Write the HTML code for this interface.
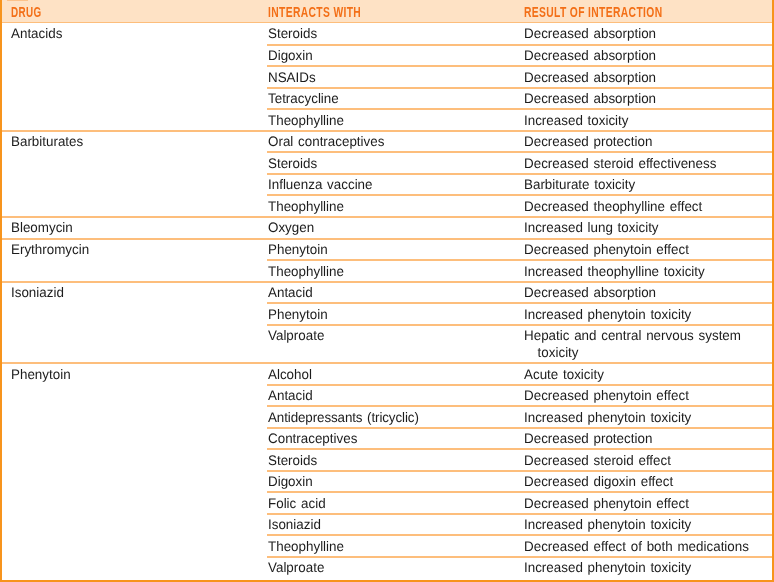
<!DOCTYPE html>
<html><head><meta charset="utf-8"><title>Drug interactions</title>
<style>
html,body{margin:0;padding:0;background:#fff;}
body{width:774px;height:582px;position:relative;overflow:hidden;font-family:"Liberation Sans",sans-serif;}
#t{position:absolute;left:0;top:0;width:774px;height:582px;box-sizing:border-box;border-left:2px solid #F7941D;border-right:2px solid #F7941D;border-bottom:2px solid #F7941D;}
#w{position:absolute;left:0;top:0;width:774px;height:582px;will-change:transform;}
.hd{position:absolute;left:0;top:0;width:774px;height:22px;background:#FEE2C5;}
.h{position:absolute;top:4px;font-size:14px;font-weight:bold;color:#F36F17;line-height:16px;white-space:nowrap;transform-origin:0 50%;transform:scaleX(.735);letter-spacing:.5px}
.l{position:absolute;height:2px;background:#FDBE7C;}
.c{position:absolute;font-size:13.8px;line-height:16.5px;color:#1c1c1c;white-space:nowrap;word-spacing:1.03px;text-rendering:geometricPrecision;transform-origin:0 0;transform:scaleX(.971)}
</style></head><body>
<div class="hd"></div>
<div style="position:absolute;left:7px;top:0;width:21px;height:1px;background:#FCC28A"></div>
<div id="w">
<div class="l" style="left:0;top:22px;width:774px;height:1px"></div>
<div class="h" style="left:10.8px;transform:scaleX(.705)">DRUG</div>
<div class="h" style="left:267.8px">INTERACTS WITH</div>
<div class="h" style="left:523.6px">RESULT OF INTERACTION</div>

<div class="c" style="left:11px;top:0;transform:translateY(26.00px) scaleX(.971)">Antacids</div>
<div class="c" style="left:268px;top:0;transform:translateY(26.00px) scaleX(.971)">Steroids</div>
<div class="c" style="left:523.5px;top:0;transform:translateY(26.00px) scaleX(.971)">Decreased absorption</div>
<div class="l" style="left:267px;top:44px;width:507px"></div>
<div class="c" style="left:268px;top:0;transform:translateY(48.00px) scaleX(.971)">Digoxin</div>
<div class="c" style="left:523.5px;top:0;transform:translateY(48.00px) scaleX(.971)">Decreased absorption</div>
<div class="l" style="left:267px;top:65px;width:507px"></div>
<div class="c" style="left:268px;top:0;transform:translateY(70.00px) scaleX(.971)">NSAIDs</div>
<div class="c" style="left:523.5px;top:0;transform:translateY(70.00px) scaleX(.971)">Decreased absorption</div>
<div class="l" style="left:267px;top:87px;width:507px"></div>
<div class="c" style="left:268px;top:0;transform:translateY(91.00px) scaleX(.971)">Tetracycline</div>
<div class="c" style="left:523.5px;top:0;transform:translateY(91.00px) scaleX(.971)">Decreased absorption</div>
<div class="l" style="left:267px;top:108px;width:507px"></div>
<div class="c" style="left:268px;top:0;transform:translateY(113.00px) scaleX(.971)">Theophylline</div>
<div class="c" style="left:523.5px;top:0;transform:translateY(113.00px) scaleX(.971)">Increased toxicity</div>
<div class="l" style="left:0;top:130px;width:774px"></div>
<div class="c" style="left:11px;top:0;transform:translateY(134.00px) scaleX(.971)">Barbiturates</div>
<div class="c" style="left:268px;top:0;transform:translateY(134.00px) scaleX(.971)">Oral contraceptives</div>
<div class="c" style="left:523.5px;top:0;transform:translateY(134.00px) scaleX(.971)">Decreased protection</div>
<div class="l" style="left:267px;top:151px;width:507px"></div>
<div class="c" style="left:268px;top:0;transform:translateY(156.00px) scaleX(.971)">Steroids</div>
<div class="c" style="left:523.5px;top:0;transform:translateY(156.00px) scaleX(.971)">Decreased steroid effectiveness</div>
<div class="l" style="left:267px;top:173px;width:507px"></div>
<div class="c" style="left:268px;top:0;transform:translateY(177.00px) scaleX(.971)">Influenza vaccine</div>
<div class="c" style="left:523.5px;top:0;transform:translateY(177.00px) scaleX(.971)">Barbiturate toxicity</div>
<div class="l" style="left:267px;top:194px;width:507px"></div>
<div class="c" style="left:268px;top:0;transform:translateY(199.00px) scaleX(.971)">Theophylline</div>
<div class="c" style="left:523.5px;top:0;transform:translateY(199.00px) scaleX(.971)">Decreased theophylline effect</div>
<div class="l" style="left:0;top:216px;width:774px"></div>
<div class="c" style="left:11px;top:0;transform:translateY(220.00px) scaleX(.971)">Bleomycin</div>
<div class="c" style="left:268px;top:0;transform:translateY(220.00px) scaleX(.971)">Oxygen</div>
<div class="c" style="left:523.5px;top:0;transform:translateY(220.00px) scaleX(.971)">Increased lung toxicity</div>
<div class="l" style="left:0;top:238px;width:774px"></div>
<div class="c" style="left:11px;top:0;transform:translateY(242.00px) scaleX(.971)">Erythromycin</div>
<div class="c" style="left:268px;top:0;transform:translateY(242.00px) scaleX(.971)">Phenytoin</div>
<div class="c" style="left:523.5px;top:0;transform:translateY(242.00px) scaleX(.971)">Decreased phenytoin effect</div>
<div class="l" style="left:267px;top:259px;width:507px"></div>
<div class="c" style="left:268px;top:0;transform:translateY(264.00px) scaleX(.971)">Theophylline</div>
<div class="c" style="left:523.5px;top:0;transform:translateY(264.00px) scaleX(.971)">Increased theophylline toxicity</div>
<div class="l" style="left:0;top:281px;width:774px"></div>
<div class="c" style="left:11px;top:0;transform:translateY(285.00px) scaleX(.971)">Isoniazid</div>
<div class="c" style="left:268px;top:0;transform:translateY(285.00px) scaleX(.971)">Antacid</div>
<div class="c" style="left:523.5px;top:0;transform:translateY(285.00px) scaleX(.971)">Decreased absorption</div>
<div class="l" style="left:267px;top:302px;width:507px"></div>
<div class="c" style="left:268px;top:0;transform:translateY(307.00px) scaleX(.971)">Phenytoin</div>
<div class="c" style="left:523.5px;top:0;transform:translateY(307.00px) scaleX(.971)">Increased phenytoin toxicity</div>
<div class="l" style="left:267px;top:324px;width:507px"></div>
<div class="c" style="left:268px;top:0;transform:translateY(328.00px) scaleX(.971)">Valproate</div>
<div class="c" style="left:523.5px;top:0;transform:translateY(328.00px) scaleX(.971)">Hepatic and central nervous system<br><span style="padding-left:14px">toxicity</span></div>
<div class="l" style="left:0;top:362px;width:774px"></div>
<div class="c" style="left:11px;top:0;transform:translateY(367.00px) scaleX(.971)">Phenytoin</div>
<div class="c" style="left:268px;top:0;transform:translateY(367.00px) scaleX(.971)">Alcohol</div>
<div class="c" style="left:523.5px;top:0;transform:translateY(367.00px) scaleX(.971)">Acute toxicity</div>
<div class="l" style="left:267px;top:384px;width:507px"></div>
<div class="c" style="left:268px;top:0;transform:translateY(388.00px) scaleX(.971)">Antacid</div>
<div class="c" style="left:523.5px;top:0;transform:translateY(388.00px) scaleX(.971)">Decreased phenytoin effect</div>
<div class="l" style="left:267px;top:405px;width:507px"></div>
<div class="c" style="left:268px;top:0;transform:translateY(410.00px) scaleX(.971)"><span style="letter-spacing:-0.11px">Antidepressants (tricyclic)</span></div>
<div class="c" style="left:523.5px;top:0;transform:translateY(410.00px) scaleX(.971)">Increased phenytoin toxicity</div>
<div class="l" style="left:267px;top:427px;width:507px"></div>
<div class="c" style="left:268px;top:0;transform:translateY(431.00px) scaleX(.971)">Contraceptives</div>
<div class="c" style="left:523.5px;top:0;transform:translateY(431.00px) scaleX(.971)">Decreased protection</div>
<div class="l" style="left:267px;top:448px;width:507px"></div>
<div class="c" style="left:268px;top:0;transform:translateY(453.00px) scaleX(.971)">Steroids</div>
<div class="c" style="left:523.5px;top:0;transform:translateY(453.00px) scaleX(.971)">Decreased steroid effect</div>
<div class="l" style="left:267px;top:470px;width:507px"></div>
<div class="c" style="left:268px;top:0;transform:translateY(474.00px) scaleX(.971)">Digoxin</div>
<div class="c" style="left:523.5px;top:0;transform:translateY(474.00px) scaleX(.971)">Decreased digoxin effect</div>
<div class="l" style="left:267px;top:491px;width:507px"></div>
<div class="c" style="left:268px;top:0;transform:translateY(496.00px) scaleX(.971)">Folic acid</div>
<div class="c" style="left:523.5px;top:0;transform:translateY(496.00px) scaleX(.971)">Decreased phenytoin effect</div>
<div class="l" style="left:267px;top:513px;width:507px"></div>
<div class="c" style="left:268px;top:0;transform:translateY(517.00px) scaleX(.971)">Isoniazid</div>
<div class="c" style="left:523.5px;top:0;transform:translateY(517.00px) scaleX(.971)">Increased phenytoin toxicity</div>
<div class="l" style="left:267px;top:534px;width:507px"></div>
<div class="c" style="left:268px;top:0;transform:translateY(539.00px) scaleX(.971)">Theophylline</div>
<div class="c" style="left:523.5px;top:0;transform:translateY(539.00px) scaleX(.971)">Decreased effect of both medications</div>
<div class="l" style="left:267px;top:556px;width:507px"></div>
<div class="c" style="left:268px;top:0;transform:translateY(560.00px) scaleX(.971)">Valproate</div>
<div class="c" style="left:523.5px;top:0;transform:translateY(560.00px) scaleX(.971)">Increased phenytoin toxicity</div>
</div>
<div id="t"></div>
</body></html>
